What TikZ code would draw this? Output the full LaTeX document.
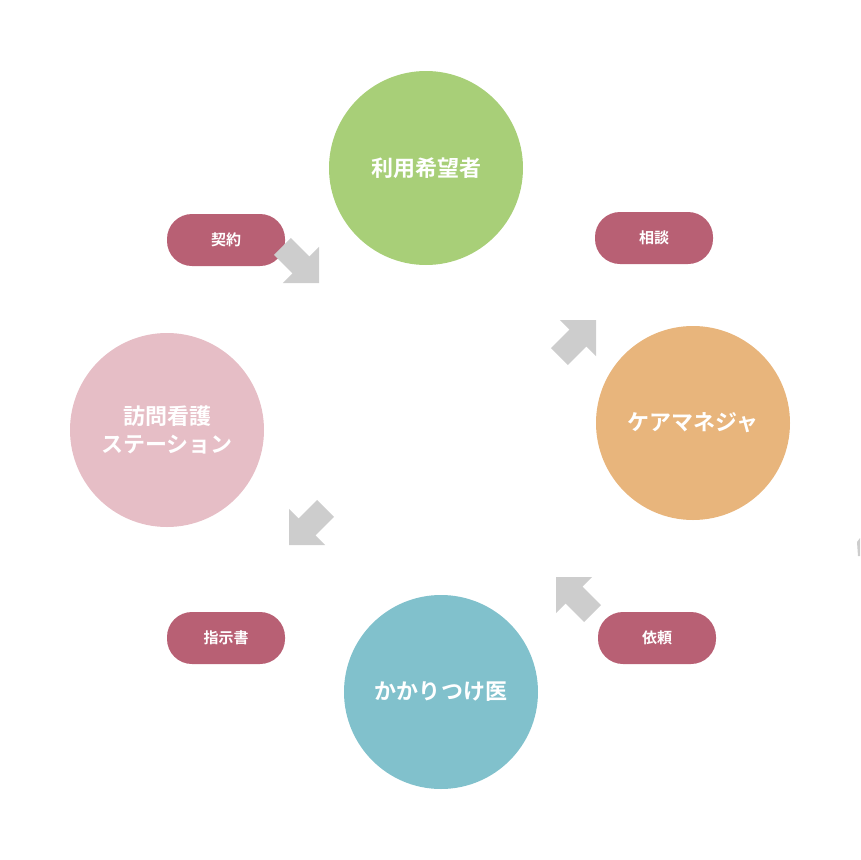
\documentclass[tikz,border=0pt]{standalone}
\usepackage{fontspec}
\setmainfont{Noto Sans CJK JP}
\newfontfamily\jpb{Noto Sans CJK JP Bold}
\begin{document}
\begin{tikzpicture}[x=1pt,y=-1pt,
  circ/.style={circle,minimum size=194pt,inner sep=0pt,text=white,font=\jpb\fontsize{22}{28}\selectfont,align=center},
  pill/.style={rounded corners=25pt,minimum width=118pt,minimum height=52pt,fill=pillc,text=white,font=\jpb\fontsize{15}{18}\selectfont,inner sep=0pt},
  garrow/.style={fill=arrc,draw=none}]
\definecolor{pillc}{HTML}{B86074}
\definecolor{arrc}{HTML}{CDCDCD}
\definecolor{cgreen}{HTML}{A8CF78}
\definecolor{corange}{HTML}{E8B57C}
\definecolor{cblue}{HTML}{81C1CC}
\definecolor{cpink}{HTML}{E6BEC6}
\useasboundingbox (0,0) rectangle (860,860);
\node[circ,fill=cgreen] (user) at (426,168) {利用希望者};
\node[circ,fill=corange] (cm) at (693,423) {ケアマネジャ};
\node[circ,fill=cblue] (dr) at (441,692) {かかりつけ医};
\node[circ,fill=cpink] (st) at (167,430) {訪問看護\\ステーション};
\node[pill] (p1) at (226,240) {契約};
\node[pill] (p2) at (654,238) {相談};
\node[pill] (p3) at (657,638) {依頼};
\node[pill] (p4) at (226,638) {指示書};
\foreach \x/\y/\r in {596/320/45, 556/577/135, 289/545/-135, 319/283/-45}{
  \fill[garrow,shift={(\x,\y)},rotate=\r] (0,0) -- (-25.5,25.5) -- (-25.5,12) -- (-51.7,12) -- (-51.7,-12) -- (-25.5,-12) -- (-25.5,-25.5) -- cycle;
}
\fill[arrc] (857,542) -- (860,538) -- (860,556) -- (858,556) -- cycle;
\end{tikzpicture}
\end{document}
